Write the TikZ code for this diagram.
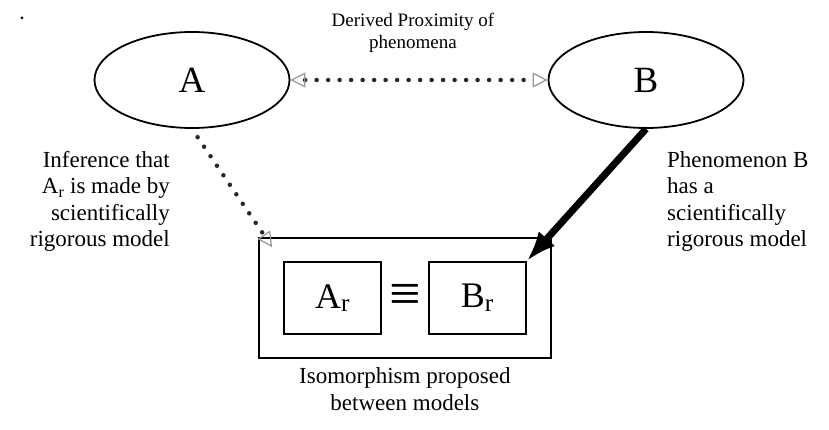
\documentclass[tikz,border=0pt]{standalone}
\usepackage{fontspec}
\setmainfont{Liberation Serif}
\usetikzlibrary{shapes,arrows.meta,positioning,calc,fit}
\definecolor{tipgray}{RGB}{150,150,150}
\definecolor{dotgray}{RGB}{40,40,40}

\begin{document}
\begin{tikzpicture}[
  x=1pt, y=-1pt,
  phen/.style={ellipse, draw, line width=1.8pt, minimum width=195pt, minimum height=96pt, inner sep=0pt, font=\fontsize{37}{40}\selectfont},
  model/.style={rectangle, draw, line width=1.8pt, minimum width=97pt, minimum height=72pt, inner sep=0pt, font=\fontsize{36}{40}\selectfont},
  note/.style={inner sep=0pt, font=\fontsize{23}{26.5}\selectfont},
  dotline/.style={line width=4.5pt, line cap=round, dash pattern=on 0pt off 11.5pt, dotgray},
  opentip/.tip={Triangle[open, length=15pt, width=15pt, line width=1.2pt, color=tipgray]},
  strong/.style={-{Latex[length=30pt,width=22pt]}, line width=7pt}
]
\useasboundingbox (0,0) rectangle (829,430);

% Phenomena
\node[phen] (a) at (192,80) {A};
\node[phen] (b) at (646,80) {B};

% Models
\node[model] (ar) at (332.5,298) {A\textsubscript{r}};
\node[model, right=46pt of ar] (br) {B\textsubscript{r}};
\node[font=\fontsize{56}{60}\selectfont, inner sep=0pt] (eq) at ($(ar)!0.5!(br)$) {≡};
\node[draw, line width=1.8pt, fit=(ar)(br), inner xsep=24pt, inner ysep=23pt] (iso) {};

% Labels
\fill (22,18) circle (1.5);
\node[font=\fontsize{19}{22}\selectfont, align=center, inner sep=0pt] (prox) at (413,33) {Derived Proximity of\\phenomena};
\node[note, align=right, anchor=north east] (infer) at (170,151) {Inference that\\A\textsubscript{r} is made by\\scientifically\\rigorous model};
\node[note, align=left, anchor=north west] (phenb) at (667,151) {Phenomenon B\\has a\\scientifically\\rigorous model};
\node[note, align=center, below=9pt of iso] (caption) {Isomorphism proposed\\between models};

% Arrows
\draw[dotline, opentip-opentip] (a) -- (b);
\draw[dotline, -opentip, shorten <=10pt] (a.south) -- ([shift={(14,10)}]iso.north west);
\draw[strong] (b.south) -- (br.north east);

\end{tikzpicture}
\end{document}
